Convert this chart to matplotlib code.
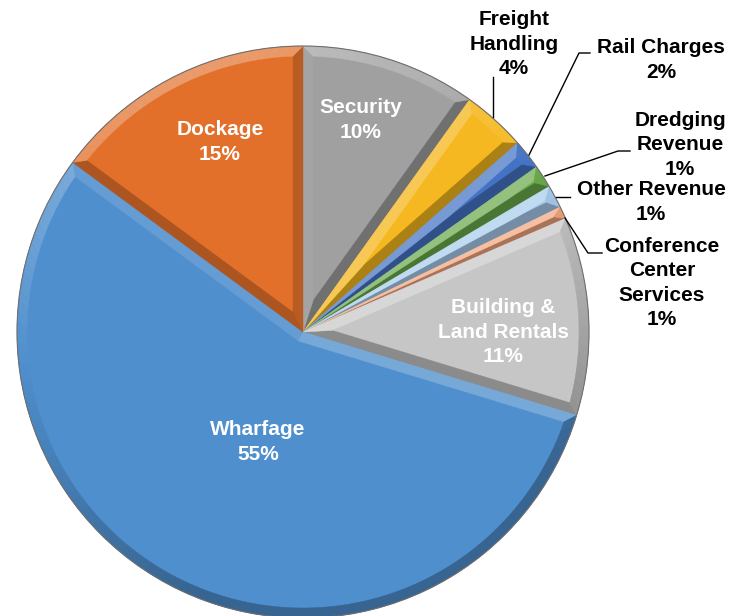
import numpy as np
import matplotlib
matplotlib.use("Agg")
import matplotlib.pyplot as plt
from matplotlib.patches import Polygon, Circle
from matplotlib.colors import to_rgb

# revenue shares (percent), clockwise from 12 o'clock
categories = ["Security", "Freight\nHandling", "Rail Charges", "Dredging\nRevenue",
              "Other Revenue", "Conference\nCenter\nServices", "Building &\nLand Rentals",
              "Wharfage", "Dockage"]
shares = [9.9, 3.6, 1.7, 1.3, 1.3, 0.7, 11.2, 55.4, 14.9]
colors = ["#A0A0A0", "#F5B820", "#4472C4", "#6AA84A", "#A6CAEC",
          "#F2A47C", "#C6C6C6", "#4F8FCD", "#E2702B"]

W, H = 732, 616
cx, cy, R = 303, H - 332, 286
bevel = 10
light = np.array([-0.35, 0.94])


def shade(color, f):
    rgb = np.array(to_rgb(color))
    if f > 0:
        return tuple(rgb + (1 - rgb) * min(f, 1) * 0.4)
    return tuple(rgb * (1 + max(f, -1) * 0.3))


def bevel_facets(w):
    """build shaded facets for the bevel band of a pie wedge"""
    c = np.array(w.center)
    r = w.r
    t1, t2 = np.radians(w.theta1), np.radians(w.theta2)
    half = (t2 - t1) / 2
    mid = t1 + half
    u1 = np.array([np.cos(t1), np.sin(t1)])
    u2 = np.array([np.cos(t2), np.sin(t2)])
    n1 = np.array([-np.sin(t1), np.cos(t1)])     # inward normal of first edge
    n2 = np.array([np.sin(t2), -np.cos(t2)])     # inward normal of second edge
    a = bevel / np.sin(half) if np.sin(half) > 1e-6 else r
    a = min(a, r - bevel)
    apex = c + a * np.array([np.cos(mid), np.sin(mid)])
    rin = r - bevel
    off = np.arcsin(bevel / rin)
    if 2 * off < (t2 - t1) and a < rin - 1:
        s_in = c + np.sqrt(rin**2 - bevel**2) * u1 + bevel * n1
        e_in = c + np.sqrt(rin**2 - bevel**2) * u2 + bevel * n2
        ia, ib = t1 + off, t2 - off
    else:
        s_in = e_in = apex
        ia = ib = mid
    facets = []
    facets.append(([c, c + r * u1, s_in, apex], -n1))
    facets.append(([c, apex, e_in, c + r * u2], -n2))
    n = max(int(np.degrees(t2 - t1) / 2), 2)
    to = np.linspace(t1, t2, n + 1)
    ti = np.linspace(ia, ib, n + 1)
    for k in range(n):
        p = [c + r * np.array([np.cos(to[k]), np.sin(to[k])]),
             c + r * np.array([np.cos(to[k + 1]), np.sin(to[k + 1])]),
             c + rin * np.array([np.cos(ti[k + 1]), np.sin(ti[k + 1])]),
             c + rin * np.array([np.cos(ti[k]), np.sin(ti[k])])]
        tm = (to[k] + to[k + 1]) / 2
        facets.append((p, np.array([np.cos(tm), np.sin(tm)])))
    return facets


fig = plt.figure(figsize=(W / 100, H / 100), dpi=100)
ax = fig.add_axes([0, 0, 1, 1])

wedges, _ = ax.pie(shares, colors=colors, startangle=90, counterclock=False,
                   center=(cx, cy), radius=R, frame=True,
                   wedgeprops=dict(linewidth=0))

for w, col in zip(wedges, colors):
    for pts, nrm in bevel_facets(w):
        f = float(np.dot(nrm, light)) - 0.25
        ax.add_patch(Polygon(pts, closed=True, facecolor=shade(col, f),
                             edgecolor=shade(col, f), linewidth=0.3))

ax.add_patch(Circle((cx, cy), R, facecolor="none", edgecolor="#6f6f6f", linewidth=0.8))

ax.set_xlim(0, W)
ax.set_ylim(0, H)
ax.axis("off")

font = dict(family="Liberation Sans", fontweight="bold", fontsize=15,
            ha="center", va="center", linespacing=1.35)

# labels inside the slices (white)
inside = {"Security": (361, 120), "Building &\nLand Rentals": (503, 332),
          "Wharfage": (258, 442), "Dockage": (220, 142)}
# labels outside with leader lines (black)
outside = {"Freight\nHandling": (514, 44), "Rail Charges": (661, 60),
           "Dredging\nRevenue": (680, 145), "Other Revenue": (651, 202),
           "Conference\nCenter\nServices": (662, 283)}
leaders = {"Freight\nHandling": [(493, 77), (493, 117)],
           "Rail Charges": [(590, 53), (579, 53), (529, 155)],
           "Dredging\nRevenue": [(630, 151), (618, 151), (545, 176)],
           "Other Revenue": [(570, 197), (556, 197)],
           "Conference\nCenter\nServices": [(602, 253), (588, 253), (565, 218)]}

for name, share in zip(categories, shares):
    text = f"{name}\n{round(share):.0f}%"
    if name in inside:
        x, y = inside[name]
        ax.text(x, H - y, text, color="white", **font)
    else:
        x, y = outside[name]
        ax.text(x, H - y, text, color="black", **font)
        pts = np.array(leaders[name], dtype=float)
        ax.plot(pts[:, 0], H - pts[:, 1], color="black", linewidth=1.0)

fig.savefig("out.png", dpi=100)
